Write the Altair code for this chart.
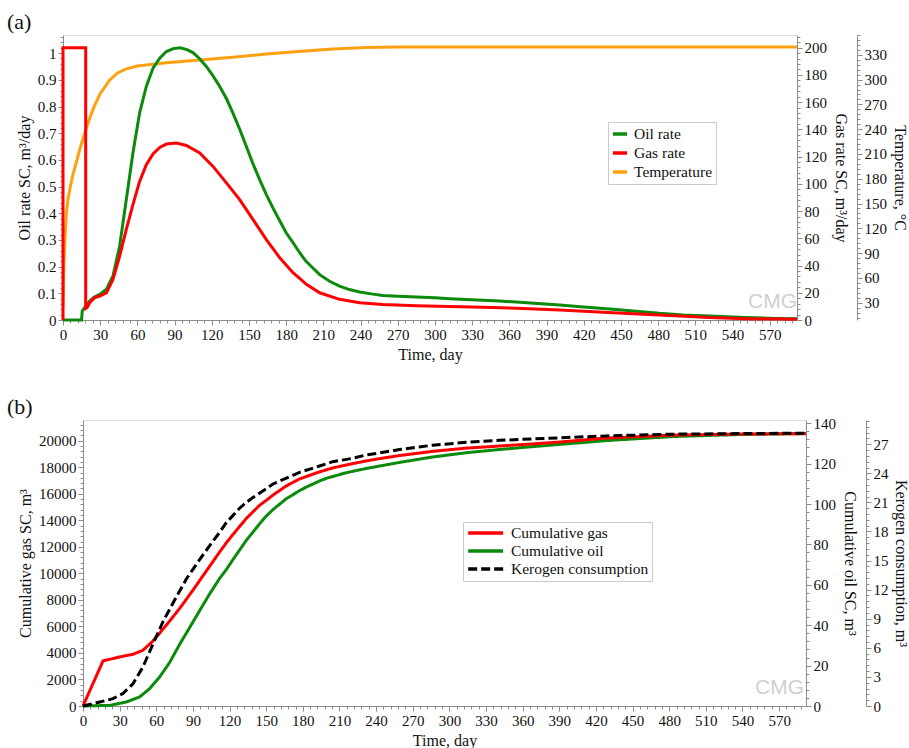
import altair as alt
import pandas as pd

FONT = "Liberation Serif"
LFONT = "Times New Roman"
AXC = "#8c8c8c"
FRAME = "#dcdcdc"
TXT = "#111111"

# ---------------- (a) rates ----------------
oil_rate_day = [0, 15, 15.5, 18, 21.5, 25, 29.6, 35, 40.3, 45.7, 51, 56.4, 61.8, 67.2, 72.6, 78,
                83.4, 89, 94.5, 100, 104.8, 110, 115.6, 121, 126.4, 132, 137, 142.5, 147.9, 153,
                158.6, 164, 169.3, 175, 180, 185.5, 190.9, 196, 201.6, 207, 215, 223, 231, 239.3,
                250, 258, 270, 285, 300, 311.9, 325, 338.7, 352, 365.6, 383, 400.6, 420, 443.5,
                460, 481, 500, 521.5, 540, 551, 575, 592]
oil_rate = [0, 0, 0.034, 0.05, 0.071, 0.085, 0.096, 0.115, 0.165, 0.277, 0.45, 0.626, 0.776, 0.875,
            0.944, 0.981, 1.006, 1.017, 1.02, 1.013, 1.002, 0.98, 0.95, 0.915, 0.875, 0.828, 0.776,
            0.715, 0.65, 0.588, 0.526, 0.47, 0.42, 0.37, 0.327, 0.29, 0.252, 0.22, 0.195, 0.17,
            0.145, 0.127, 0.114, 0.105, 0.097, 0.092, 0.089, 0.086, 0.083, 0.080, 0.077, 0.074,
            0.071, 0.067, 0.062, 0.056, 0.049, 0.040, 0.034, 0.025, 0.019, 0.015, 0.011, 0.009,
            0.006, 0.005]

gas_rate_day = [0, 0, 18.3, 18.3, 19.4, 21.5, 25.6, 29.6, 35, 40.3, 45.7, 51, 56.4, 61.8, 67.2,
                72.6, 78, 83.4, 91.5, 99.5, 110.3, 121, 131.8, 142.5, 153.3, 164, 174.8, 185.5,
                190.9, 196.3, 207, 223, 239.3, 258, 285, 311.9, 338.7, 365.6, 400.6, 443.5, 481,
                521, 551, 592]
gas_rate = [0, 200, 200, 8.5, 9.1, 12.7, 16.4, 17.6, 20, 29.8, 46.9, 66.4, 84.8, 101.8, 114, 122,
            126.7, 129.2, 130, 128.2, 122.6, 112.8, 100.7, 88.4, 73.7, 59.1, 45.7, 34.7, 30.5,
            26.2, 20, 15.2, 12.7, 11.3, 10.5, 10, 9.3, 8.6, 7.3, 5.4, 3.7, 1.8, 1.0, 0.5]

temp_day = [0, 0.7, 1.5, 2.7, 4, 5.9, 8, 11.3, 14, 17.5, 21, 25, 30, 37.7, 44, 51, 60, 83.4,
            110.3, 137, 164, 190, 217.7, 244.7, 270, 592]
temperature = [25, 75, 105, 138, 155, 170, 185, 203, 218, 235, 251, 267, 283, 299.6, 308, 313,
               316.5, 320.5, 323.8, 327, 331, 334, 337, 339, 339.5, 339.5]

series_a = ["Oil rate", "Gas rate", "Temperature"]
colors_a = ["#0b8a0b", "#ff0000", "#ffa010"]

# ---------------- (b) cumulatives ----------------
cum_gas_day = [0, 16.4, 30, 40.9, 49, 57.3, 68.2, 79.1, 90, 101, 111.8, 117.3, 122.7, 133.7, 144.6,
               150, 155.5, 166.4, 177.3, 193.7, 204.5, 215.5, 231.9, 242.8, 259.1, 286.4, 313.7,
               341, 368, 390, 428, 483, 537, 592]
cum_gas = [0, 3400, 3700, 3900, 4200, 4900, 6090, 7350, 8730, 10180, 11600, 12300, 12920, 14140,
           15130, 15500, 15900, 16590, 17120, 17650, 17950, 18170, 18480, 18650, 18880, 19200,
           19440, 19600, 19760, 19900, 20200, 20420, 20505, 20530]

cum_oil_day = [0, 21.8, 35.5, 46.4, 54.6, 62.8, 70.9, 79.1, 87.3, 95.5, 103.6, 111.8, 117.3, 122.7,
               133.7, 144.6, 150, 155.5, 166.4, 177.3, 182.8, 193.7, 199.1, 215.5, 231.9, 242.8,
               259.1, 286.4, 313.7, 341, 368.2, 390, 428.2, 482.7, 537.3, 592]
cum_oil = [0, 0.3, 2, 4.5, 8.6, 14.4, 21.5, 30.5, 38.8, 47.2, 55.4, 63.1, 67.5, 72.4, 82, 90.2, 94,
           97.2, 102.6, 106.6, 108.4, 111.4, 112.7, 115.5, 117.6, 118.8, 120.6, 123.3, 125.4,
           127.0, 128.4, 129.5, 131.4, 133.4, 134.4, 134.9]

kerogen_day = [0, 13.7, 24.5, 32.7, 40.9, 49, 57.3, 65.5, 73.6, 84.6, 90, 95.5, 106.4, 111.8, 117.3,
               128.2, 133.7, 139.1, 150, 155.5, 160.9, 171.8, 177.3, 193.7, 204.5, 220.9, 231.9,
               242.8, 259.1, 286.4, 313.7, 341, 368.2, 428.2, 482.7, 537.3, 592]
kerogen = [0, 0.41, 0.76, 1.28, 2.3, 4.0, 6.4, 8.7, 10.6, 13.1, 14.1, 15.1, 17.0, 17.9, 18.9, 20.4,
           21.0, 21.5, 22.4, 22.9, 23.2, 23.8, 24.1, 24.75, 25.2, 25.55, 25.9, 26.1, 26.45, 26.9,
           27.2, 27.4, 27.55, 27.86, 28.04, 28.1, 28.14]

series_b = ["Cumulative gas", "Cumulative oil", "Kerogen consumption"]
colors_b = ["#ff0000", "#0b8a0b", "#000000"]
dashes_b = [[1, 0], [1, 0], [9, 4]]


def frame(days, vals, name):
    return pd.DataFrame({"day": days, "v": vals, "series": name, "i": list(range(len(days)))})


def ticks(step, lo, hi):
    n = int((hi - lo) / step + 1e-9)
    return [round(lo + k * step, 6) for k in range(n + 1)]


def major_axis(orient, title, values, fmt, offset=0, tpad=6):
    return alt.Axis(
        orient=orient, title=title, values=values, format=fmt, tickSize=5,
        labelOverlap=False, labelFlush=False, offset=offset, grid=False,
        domainColor=AXC, tickColor=AXC, labelFont=LFONT, labelFontSize=15,
        labelColor=TXT, labelPadding=2, titleFont=FONT, titleFontSize=16,
        titleFontWeight="normal", titleColor=TXT, titlePadding=tpad)


def minor_axis(orient, values, majors, offset=0):
    vals = [v for v in values if all(abs(v - m) > 1e-6 for m in majors)]
    return alt.Axis(orient=orient, title=None, values=vals, labels=False, domain=False,
                    tickSize=3, tickColor=AXC, grid=False, offset=offset)


X_MAJ = [v for v in range(0, 571, 30)]
X_BOTTOM = major_axis("bottom", "Time, day", X_MAJ, "d", tpad=4)
X_MINOR = minor_axis("bottom", ticks(6, 0, 588), X_MAJ)
X_TOP = alt.Axis(orient="top", title=None, labels=False, ticks=False, domainColor=FRAME, grid=False)


def xenc(xaxis, xrange):
    return alt.X("day:Q", scale=alt.Scale(domain=[0, 592], nice=False, zero=False, range=xrange),
                 axis=xaxis)


def legend(x, y, size, symbol, offset):
    return alt.Legend(orient="none", legendX=x, legendY=y, title=None, symbolType=symbol,
                      symbolSize=size, symbolStrokeWidth=3.5, labelFont=LFONT, labelFontSize=15.5,
                      labelColor=TXT, strokeColor="#cccccc", fillColor="white", padding=3,
                      rowPadding=1, labelOffset=offset)


def series_layer(df, xaxis, xrange, ydomain, yaxis, **enc):
    return alt.Chart(df).mark_line(strokeWidth=3, clip=False).encode(
        x=xenc(xaxis, xrange),
        y=alt.Y("v:Q", scale=alt.Scale(domain=ydomain, nice=False, zero=False), axis=yaxis),
        order="i:Q", **enc)


def minor_layer(df, xaxis, xrange, ydomain, yaxis):
    return alt.Chart(df).mark_line(strokeOpacity=0, clip=False).encode(
        x=xenc(xaxis, xrange),
        y=alt.Y("v:Q", scale=alt.Scale(domain=ydomain, nice=False, zero=False), axis=yaxis))


# ---- top chart (plot starts 20px left of the shared origin) ----
WA, HA = 714, 285
RA = [-20, WA]
leg_a = legend(525, 87, 196, "stroke", 5)
col_a = alt.Color("series:N", scale=alt.Scale(domain=series_a, range=colors_a), legend=leg_a)

df_t = frame(temp_day, temperature, "Temperature")
df_o = frame(oil_rate_day, oil_rate, "Oil rate")
df_g = frame(gas_rate_day, gas_rate, "Gas rate")
T_DOM, O_DOM, G_DOM = [9, 354], [0, 1.068], [0, 209.3]
T_MAJ, O_MAJ, G_MAJ = ticks(30, 30, 330), ticks(0.1, 0, 1.0), ticks(20, 0, 200)

top = alt.layer(
    series_layer(df_t, X_BOTTOM, RA, T_DOM,
                 major_axis("right", "Temperature, °C", T_MAJ, "d", offset=60, tpad=5), color=col_a),
    series_layer(df_o, X_TOP, RA, O_DOM,
                 major_axis("left", "Oil rate SC, m³/day", O_MAJ, ".1~f", offset=20, tpad=5),
                 color=col_a),
    series_layer(df_g, None, RA, G_DOM,
                 major_axis("right", "Gas rate SC, m³/day", G_MAJ, "d", tpad=6), color=col_a),
    minor_layer(df_t, X_MINOR, RA, T_DOM, minor_axis("right", ticks(6, 12, 354), T_MAJ, offset=60)),
    minor_layer(df_o, None, RA, O_DOM, minor_axis("left", ticks(0.02, 0, 1.06), O_MAJ, offset=20)),
    minor_layer(df_g, None, RA, G_DOM, minor_axis("right", ticks(4, 0, 208), G_MAJ)),
    alt.Chart(pd.DataFrame({"t": ["CMG"]})).mark_text(
        font="Liberation Sans", fontSize=21, color="#d0d0d0", align="left", baseline="bottom"
    ).encode(text="t:N", x=alt.value(665), y=alt.value(277)),
).resolve_scale(y="independent").resolve_axis(x="independent").properties(
    width=WA, height=HA,
    title=alt.TitleParams("(a)", anchor="start", frame="group", dx=-76, fontSize=22, font=FONT,
                          fontWeight="normal", color=TXT, offset=1))

# ---- bottom chart ----
WB, HB = 723, 286
RB = [0, WB]
leg_b = legend(380, 102, 136, "M-1,0L5,0", 29)
col_b = alt.Color("series:N", scale=alt.Scale(domain=series_b, range=colors_b), legend=leg_b)
dash_b = alt.StrokeDash("series:N", scale=alt.Scale(domain=series_b, range=dashes_b), legend=leg_b)

df_co = frame(cum_oil_day, cum_oil, "Cumulative oil")
df_cg = frame(cum_gas_day, cum_gas, "Cumulative gas")
df_k = frame(kerogen_day, kerogen, "Kerogen consumption")
CO_DOM, CG_DOM, K_DOM = [0, 141.6], [0, 21562], [0, 29.5]
CO_MAJ, CG_MAJ, K_MAJ = ticks(20, 0, 140), ticks(2000, 0, 20000), ticks(3, 0, 27)

bottom = alt.layer(
    series_layer(df_co, X_BOTTOM, RB, CO_DOM,
                 major_axis("right", "Cumulative oil SC, m³", CO_MAJ, "d", tpad=6),
                 color=col_b, strokeDash=dash_b),
    series_layer(df_cg, X_TOP, RB, CG_DOM,
                 major_axis("left", "Cumulative gas SC, m³", CG_MAJ, "d", tpad=5),
                 color=col_b, strokeDash=dash_b),
    series_layer(df_k, None, RB, K_DOM,
                 major_axis("right", "Kerogen consumption, m³", K_MAJ, "d", offset=60, tpad=4),
                 color=col_b, strokeDash=dash_b),
    minor_layer(df_co, X_MINOR, RB, CO_DOM, minor_axis("right", ticks(4, 0, 140), CO_MAJ)),
    minor_layer(df_cg, None, RB, CG_DOM, minor_axis("left", ticks(400, 0, 21200), CG_MAJ)),
    minor_layer(df_k, None, RB, K_DOM, minor_axis("right", ticks(0.6, 0, 29.4), K_MAJ, offset=60)),
    alt.Chart(pd.DataFrame({"t": ["CMG"]})).mark_text(
        font="Liberation Sans", fontSize=21, color="#d0d0d0", align="left", baseline="bottom"
    ).encode(text="t:N", x=alt.value(672), y=alt.value(278)),
).resolve_scale(y="independent").resolve_axis(x="independent").properties(
    width=WB, height=HB,
    title=alt.TitleParams("(b)", anchor="start", frame="group", dx=-76, fontSize=22, font=FONT,
                          fontWeight="normal", color=TXT, offset=-3))

chart = alt.concat(top, bottom, columns=1, spacing=34).resolve_scale(
    color="independent", strokeDash="independent"
).configure(font=FONT).configure_view(stroke=None).properties(
    padding={"left": 7, "top": 10, "right": 0, "bottom": 0})

chart.save("out.html", embed_options={"renderer": "svg", "actions": False})
